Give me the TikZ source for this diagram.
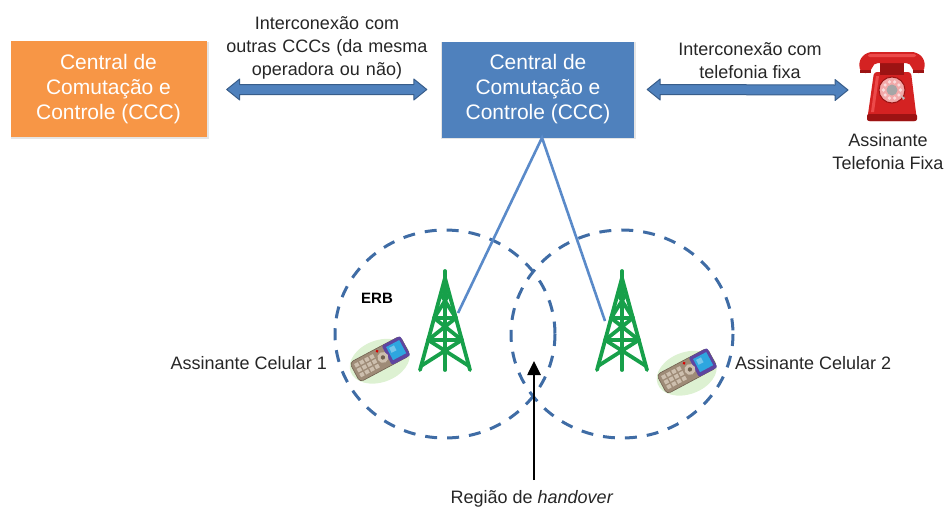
\documentclass[tikz,border=0pt]{standalone}
\usepackage{fontspec}
\setmainfont{Liberation Sans}
\usetikzlibrary{calc,arrows.meta}

\definecolor{cccorange}{HTML}{F79646}
\definecolor{cccblue}{HTML}{4F81BD}
\definecolor{arrowedge}{HTML}{385D8A}
\definecolor{cellblue}{HTML}{3F6CA5}
\definecolor{linkblue}{HTML}{5A8AC9}
\definecolor{towergreen}{HTML}{17A04A}
\definecolor{labelgray}{HTML}{262626}
\definecolor{glowgreen}{HTML}{DDF1D2}
\definecolor{bodybrown}{HTML}{9E8B77}
\definecolor{bodydark}{HTML}{6F604F}
\definecolor{keycol}{HTML}{CDBFAE}
\definecolor{screenframe}{HTML}{5E45A0}
\definecolor{screenblue}{HTML}{2EA6DF}
\definecolor{phonered}{HTML}{D42222}
\definecolor{phonedark}{HTML}{9C1313}
\definecolor{phonelight}{HTML}{EC4A4A}
\definecolor{dialpink}{HTML}{F2A9A9}

% fat double-headed arrow between two named points (horizontal)
\newcommand\fatarrow[2]{%
  \filldraw[fill=cccblue, draw=arrowedge, line width=1pt, line join=round]
    (#1) -- ++(13,-10.5) -- ++(0,5.5) -- ($(#2)+(-13,-5)$) -- ++(0,-5.5) -- (#2)
    -- ++(-13,10.5) -- ++(0,-5.5) -- ($(#1)+(13,5)$) -- ++(0,5.5) -- cycle;}

\tikzset{
  cccbox/.style={minimum width=196pt, minimum height=96pt, inner sep=0pt,
    text=white, align=center, font=\fontsize{21}{25}\selectfont},
  lbl/.style={text=labelgray, align=center, inner sep=0pt,
    font=\fontsize{18}{23}\selectfont},
  cellzone/.style={cellblue, line width=3pt, dash pattern=on 12pt off 10pt},
  link/.style={linkblue, line width=2.6pt},
  tower/.pic={
    \begin{scope}[towergreen, line width=3.8pt, line cap=round, line join=round]
      \draw (-25,92) -- (0,0) -- (25,92);
      \draw (0,-7) -- (0,92);
      \draw (-10.9,40) -- (10.9,40);
      \draw (-16.9,62) -- (16.9,62);
      \draw (-4.3,16) -- (10.9,40) (4.3,16) -- (-10.9,40);
      \draw (-10.9,40) -- (16.9,62) (10.9,40) -- (-16.9,62);
      \draw (-16.9,62) -- (24,88) (16.9,62) -- (-24,88);
    \end{scope}
  },
  mobile/.pic={
    \fill[glowgreen, rotate=20] (-1,2) ellipse [x radius=31, y radius=21];
    \begin{scope}[rotate=28, scale=1.1]
      \filldraw[fill=bodybrown, draw=bodydark, line width=0.6pt, rounded corners=4pt]
        (-26,-10) rectangle (26,10);
      \fill[screenframe, rounded corners=2pt] (7,-10) rectangle (26,10);
      \fill[screenblue] (10,-7) rectangle (23.5,6.5);
      \fill[white, opacity=0.35] (12,-5) rectangle (17,0);
      \fill[keycol] (3,0) circle (5);
      \fill[bodydark] (3,0) circle (2);
      \fill[red!85!black] (1,-7.5) circle (1.4);
      \foreach \i in {0,1,2,3}
        \foreach \j in {0,1,2}
          \fill[keycol] ({-23+\i*5.2},{-7+\j*5}) rectangle ++(3.8,3.6);
    \end{scope}
  },
  deskphone/.pic={
    % base and body
    \fill[phonered, rounded corners=3pt] (-25,31) -- (25,31) -- (19,-18) -- (-18,-18) -- cycle;
    \fill[phonedark, rounded corners=2pt] (-25,24) rectangle (25,31);
    \fill[phonelight] (-16,-14) -- (-21,22) -- (-18,22) -- (-13,-14) -- cycle;
    % handset
    \fill[phonedark] (-12,-28) rectangle (12,-15);
    \fill[phonered, rounded corners=5pt]
      (-32,-17) -- (-33,-30) -- (-25,-38) -- (25,-38) -- (33,-30) -- (32,-17)
      -- (21,-17) -- (19,-27) -- (-19,-27) -- (-21,-17) -- cycle;
    \fill[phonelight, rounded corners=2pt] (-24,-36) rectangle (24,-33);
    \fill[phonedark] (-32,-20) rectangle (-21,-17);
    \fill[phonedark] (21,-20) rectangle (32,-17);
    % dial
    \filldraw[fill=dialpink, draw=phonedark, line width=1pt] (0,0) circle (13);
    \foreach \a in {0,36,...,324}
      \fill[white, opacity=0.6] (\a:8.5) circle (1.8);
    \fill[gray!70] (0,0) circle (5.5);
    \fill[gray!55] (9,5) -- (13,8) -- (11,10) -- cycle;
  },
}

\begin{document}
\begin{tikzpicture}[x=1pt, y=-1pt]
  \useasboundingbox (0,0) rectangle (947,509);

  % switching centres
  \fill[black!10] (11,42) rectangle (209,139);
  \node[cccbox, fill=cccorange] (cccA) at (108.5,89) {Central de\\Comutação e\\Controle (CCC)};
  \fill[black!10] (441,42) rectangle (636,139);
  \node[cccbox, fill=cccblue, minimum width=192pt] (cccB) at (538,89.5) {Central de\\Comutação e\\Controle (CCC)};

  % fixed-line subscriber
  \pic (fone) at (892,90) {deskphone};
  \coordinate (foneW) at (848,90);
  \node[lbl] (foneLbl) at (888,151.5) {Assinante\\Telefonia Fixa};

  % interconnection arrows
  \coordinate (aL) at ($(cccA.east)+(20,0.5)$);
  \coordinate (aR) at ($(cccB.west)+(-15,0)$);
  \fatarrow{aL}{aR}
  \coordinate (bL) at ($(cccB.east)+(13,0)$);
  \fatarrow{bL}{foneW}
  \node[lbl, text width=220pt] (iconA) at (327,47.5) {Interconexão com\\outras CCCs (da mesma\\operadora ou não)};
  \node[lbl] (iconB) at (750,61) {Interconexão com\\telefonia fixa};

  % cells
  \draw[cellzone] (445,334) ellipse [x radius=110, y radius=104];
  \draw[cellzone] (622,334) ellipse [x radius=111, y radius=104];

  % links from the switching centre to the base stations
  \coordinate (apex) at ($(cccB.south)+(4,0)$);
  \coordinate (linkA) at (458,313);
  \coordinate (linkB) at (605,321);
  \draw[link] (linkA) -- (apex) -- (linkB);

  % base stations
  \pic (erbA) at (445,278) {tower};
  \pic (erbB) at (622,278) {tower};
  \node[font=\fontsize{15}{18}\selectfont\bfseries, inner sep=0pt] (erbLbl) at (377,298) {ERB};

  % mobile subscribers
  \pic (celA) at (380,359) {mobile};
  \pic (celB) at (687,371) {mobile};
  \node[lbl, anchor=east] (celALbl) at (327,363) {Assinante Celular 1};
  \node[lbl, anchor=west] (celBLbl) at (735,363) {Assinante Celular 2};

  % handover region
  \node[lbl] (hoLbl) at (532,499) {Região de \textit{handover}};
  \coordinate (hoTail) at (534,480);
  \coordinate (hoTip) at (534,361);
  \draw[line width=2.6pt, -{Triangle[length=14pt, width=13pt]}] (hoTail) -- (hoTip);
\end{tikzpicture}
\end{document}
